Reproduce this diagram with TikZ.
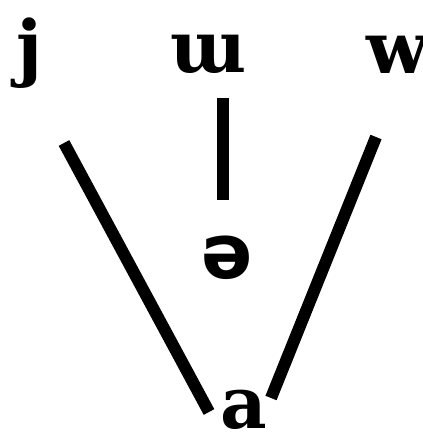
\documentclass[tikz,border=0pt]{standalone}
\usepackage{fontspec}
\setmainfont{DejaVu Serif}
\newfontfamily\ipasans{DejaVu Sans}
\begin{document}
\begin{tikzpicture}[x=1pt,y=-1pt,
  seg/.style={line width=12pt},
  lbl/.style={inner sep=0pt,font=\fontsize{72}{76}\selectfont\bfseries},
  lbls/.style={inner sep=0pt,font=\fontsize{76}{80}\selectfont\ipasans\bfseries}]
\useasboundingbox (0,0) rectangle (422,435);
\node[lbl,anchor=base west] (j) at (16,73) {j};
\node[lbl,anchor=base] (u) at (209,73) {ɯ};
\node[lbl,anchor=base west] (w) at (366,74) {w};
\node[lbls,anchor=base] (e) at (227,278) {ə};
\node[lbl,anchor=base] (a) at (244,428) {a};
\coordinate (jl) at (64,143);
\coordinate (al) at (209,412);
\coordinate (wr) at (376,137);
\coordinate (ar) at (271,398);
\coordinate (ut) at (223,98);
\coordinate (eb) at (223,200);
\draw[seg] (jl) -- (al);
\draw[seg] (wr) -- (ar);
\draw[seg] (ut) -- (eb);
\end{tikzpicture}
\end{document}
